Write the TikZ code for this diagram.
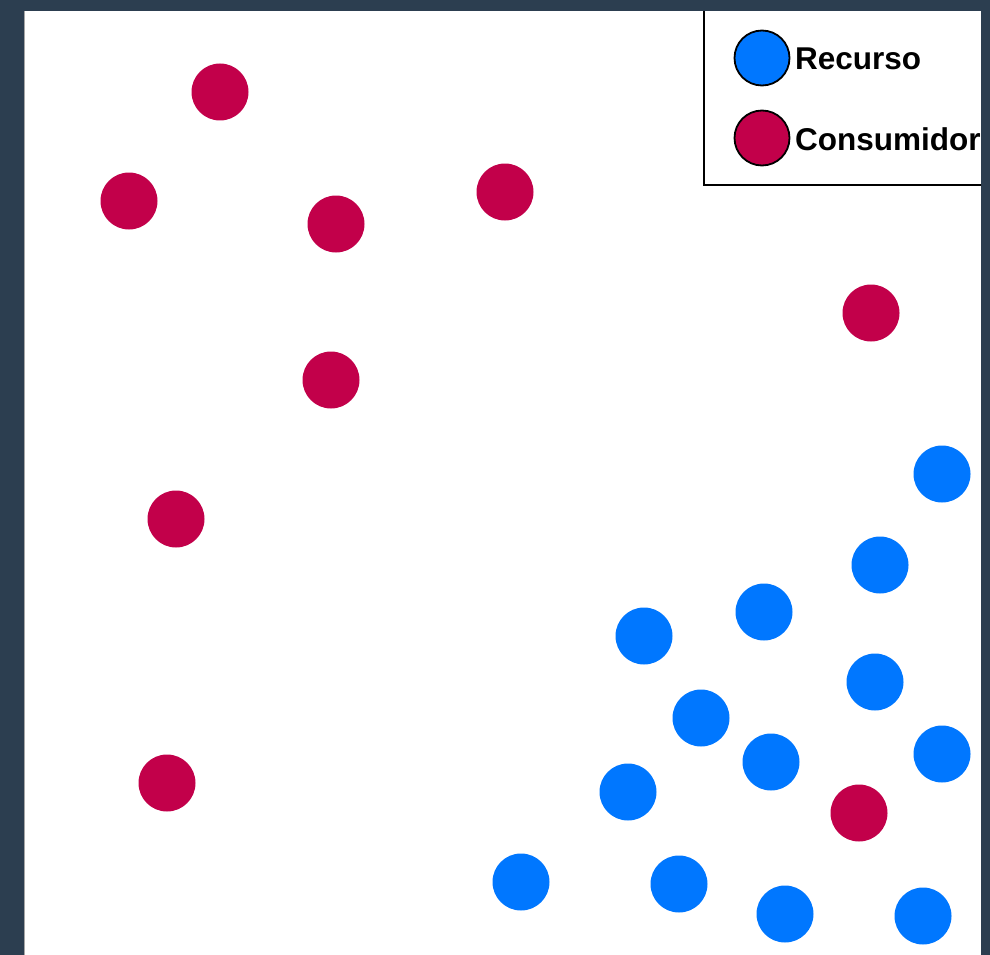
\documentclass[tikz,border=0pt]{standalone}
\usepackage{fontspec}
\setmainfont{Liberation Sans}
\definecolor{bgdark}{HTML}{2C3E50}
\definecolor{recblue}{HTML}{0077FF}
\definecolor{conred}{HTML}{C2004A}
\tikzset{
  res/.style={circle, fill=recblue, minimum size=57pt, inner sep=0pt},
  con/.style={circle, fill=conred, minimum size=57pt, inner sep=0pt},
  legres/.style={circle, fill=recblue, draw=black, line width=1.8pt, minimum size=55pt, inner sep=0pt},
  legcon/.style={circle, fill=conred, draw=black, line width=1.8pt, minimum size=55pt, inner sep=0pt},
  legtext/.style={anchor=west, inner sep=0pt, font=\fontsize{31.5}{36}\selectfont\bfseries},
}
\begin{document}
\begin{tikzpicture}[x=1pt,y=-1pt]
\useasboundingbox (0,0) rectangle (990,955);
\fill[bgdark] (0,0) rectangle (990,955);
\fill[white] (24.5,11) rectangle (981,955);
\draw[gray!70, line width=0.8pt] (24.5,11) -- (24.5,955);
\begin{scope}
\clip (24.5,11) rectangle (981,955);
% consumers
\node[con] (c1) at (220,92) {};
\node[con] (c2) at (129,201) {};
\node[con] (c3) at (336,224) {};
\node[con] (c4) at (505,192) {};
\node[con] (c5) at (871,313) {};
\node[con] (c6) at (331,380) {};
\node[con] (c7) at (176,519) {};
\node[con] (c8) at (167,783) {};
\node[con] (c9) at (859,813) {};
% resources
\node[res] (r1) at (942,474) {};
\node[res] (r2) at (880,565) {};
\node[res] (r3) at (764,612) {};
\node[res] (r4) at (644,636) {};
\node[res] (r5) at (875,682) {};
\node[res] (r6) at (701,718) {};
\node[res] (r7) at (942,754) {};
\node[res] (r8) at (771,762) {};
\node[res] (r9) at (628,792) {};
\node[res] (r10) at (521,882) {};
\node[res] (r11) at (679,884) {};
\node[res] (r12) at (785,914) {};
\node[res] (r13) at (923,916) {};
% legend
\coordinate (lgtl) at (704,11);
\coordinate (lgbl) at (704,185);
\coordinate (lgbr) at (985,185);
\draw[line width=2.5pt] (lgtl) -- (lgbl) -- (lgbr);
\node[legres] (lr) at (762,58) {};
\node[legcon] (lc) at (762,138) {};
\node[legtext] (lrt) at (795,59) {Recurso};
\node[legtext] (lct) at (795,139) {Consumidor};
\end{scope}
\end{tikzpicture}
\end{document}
